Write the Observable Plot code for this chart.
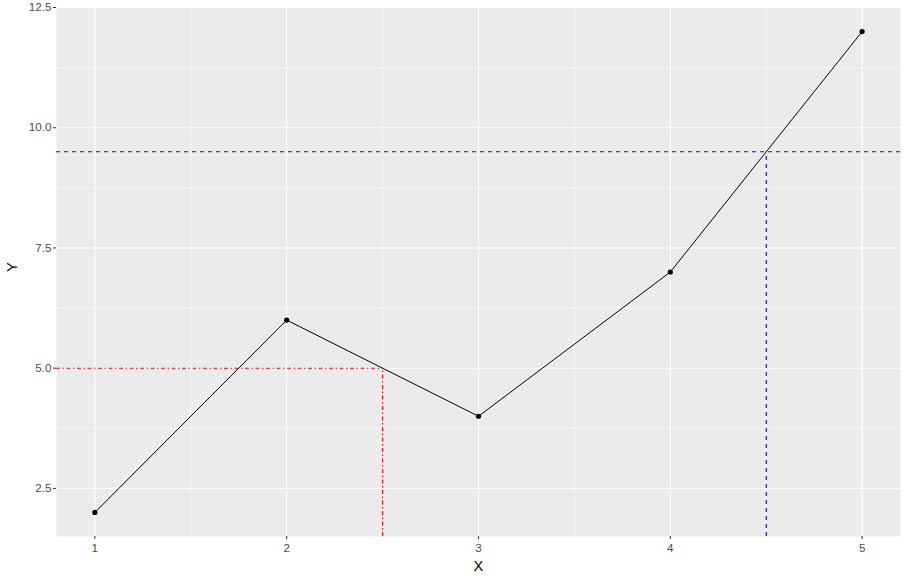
<!DOCTYPE html>
<html>
<head>
<meta charset="utf-8">
<script src="https://cdn.jsdelivr.net/npm/d3@7"></script>
<script src="https://cdn.jsdelivr.net/npm/@observablehq/plot@0.6"></script>
<style>
  html, body { margin: 0; padding: 0; background: #fff; }
  svg { display: block; }
</style>
</head>
<body>
<div id="chart"></div>
<script>
const xs = [1, 2, 3, 4, 5];
const ys = [2, 6, 4, 7, 12];
const xTicks = [1, 2, 3, 4, 5];
const yTicks = [2.5, 5, 7.5, 10, 12.5];
const xMinor = [1.5, 2.5, 3.5, 4.5];
const yMinor = [3.75, 6.25, 8.75, 11.25];
const redX = 2.5, redY = 5;
const blueX = 4.5, blueY = 9.5;
const xDomain = [0.8, 5.2];
const yDomain = [1.5, 12.5];

const pts = xs.map((x, i) => ({x, y: ys[i]}));

const chart = Plot.plot({
  width: 908,
  height: 581,
  marginLeft: 56,
  marginRight: 8,
  marginTop: 7,
  marginBottom: 45,
  style: {fontFamily: "'Liberation Sans', Arial, sans-serif", background: "#fff"},
  x: {domain: xDomain, label: null},
  y: {domain: yDomain, label: null},
  marks: [
    Plot.frame({fill: "#EBEBEB", stroke: null}),
    Plot.ruleX(xMinor, {stroke: "#fff", strokeWidth: 0.55}),
    Plot.ruleY(yMinor, {stroke: "#fff", strokeWidth: 0.55}),
    Plot.ruleX(xTicks, {stroke: "#fff", strokeWidth: 1.1}),
    Plot.ruleY(yTicks, {stroke: "#fff", strokeWidth: 1.1}),
    Plot.axisX({ticks: xTicks, tickSize: 3, tickPadding: 4, fontSize: 11.7, color: "#4d4d4d", stroke: "#333", tickFormat: d3.format("d"), label: null}),
    Plot.axisY({ticks: yTicks, tickSize: 3, tickPadding: 2, fontSize: 11.7, color: "#4d4d4d", stroke: "#333", tickFormat: d3.format(".1f"), label: null}),
    Plot.ruleY([redY], {x1: xDomain[0], x2: redX, stroke: "red", strokeWidth: 1.1, strokeDasharray: "4,2.5,1.5,2.5"}),
    Plot.ruleX([redX], {y1: yDomain[0], y2: redY, stroke: "red", strokeWidth: 1.1, strokeDasharray: "4,2.5,1.5,2.5"}),
    Plot.ruleY([blueY], {x1: xDomain[0], x2: xDomain[1], stroke: "#1a1a9a", strokeWidth: 1.1, strokeDasharray: "4,4"}),
    Plot.ruleX([blueX], {y1: yDomain[0], y2: blueY, stroke: "blue", strokeWidth: 1.1, strokeDasharray: "4,4"}),
    Plot.line(pts, {x: "x", y: "y", stroke: "#000", strokeWidth: 1}),
    Plot.dot(pts, {x: "x", y: "y", fill: "#000", r: 2.6}),
    Plot.text(["X"], {frameAnchor: "bottom", dy: 30, fontSize: 14.7, fill: "#000", lineAnchor: "middle"}),
    Plot.text(["Y"], {frameAnchor: "left", dx: -44, rotate: -90, fontSize: 14.7, fill: "#000"})
  ]
});
document.getElementById("chart").appendChild(chart);
</script>
</body>
</html>
